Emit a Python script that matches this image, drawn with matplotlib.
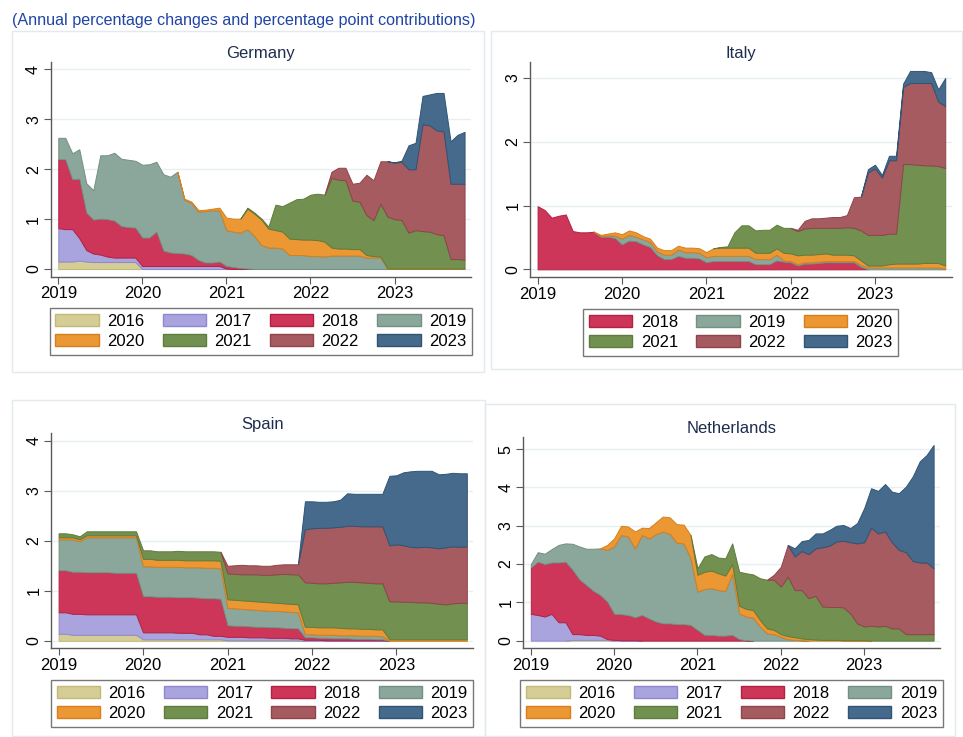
import numpy as np
import matplotlib
matplotlib.use("Agg")
import matplotlib.pyplot as plt
from matplotlib.patches import Patch, Rectangle

plt.rcParams["font.family"] = ["Liberation Sans", "DejaVu Sans"]

# ---------------------------------------------------------------- data --- #
# monthly observations, Jan 2019 .. Nov 2023 (one row per year)
n_obs = 59
years = ["2016", "2017", "2018", "2019", "2020", "2021", "2022", "2023"]
tick_years = [2019, 2020, 2021, 2022, 2023]

# Germany
de_2016 = [0.15, 0.15, 0.15, 0.17, 0.15, 0.14, 0.14, 0.14, 0.14, 0.14, 0.14, 0.14,
           0, 0, 0, 0, 0, 0, 0, 0, 0, 0, 0, 0,
           0, 0, 0, 0, 0, 0, 0, 0, 0, 0, 0, 0,
           0, 0, 0, 0, 0, 0, 0, 0, 0, 0, 0, 0,
           0, 0, 0, 0, 0, 0, 0, 0, 0, 0, 0]
de_2017 = [0.67, 0.65, 0.65, 0.45, 0.23, 0.17, 0.15, 0.11, 0.09, 0.09, 0.09, 0.09,
           0.06, 0.06, 0.06, 0.06, 0.06, 0.06, 0.06, 0.06, 0.06, 0.06, 0.06, 0.06,
           0.01, 0, 0, 0, 0, 0, 0, 0, 0, 0, 0, 0,
           0, 0, 0, 0, 0, 0, 0, 0, 0, 0, 0, 0,
           0, 0, 0, 0, 0, 0, 0, 0, 0, 0, 0]
de_2018 = [1.38, 1.40, 1.00, 1.19, 0.75, 0.68, 0.72, 0.75, 0.74, 0.63, 0.61, 0.60,
           0.57, 0.57, 0.69, 0.31, 0.27, 0.26, 0.25, 0.22, 0.12, 0.07, 0.07, 0.09,
           0.05, 0.04, 0.02, 0.01, 0, 0, 0, 0, 0, 0, 0, 0,
           0, 0, 0, 0, 0, 0, 0, 0, 0, 0, 0, 0,
           0, 0, 0, 0, 0, 0, 0, 0, 0, 0, 0]
de_2019 = [0.43, 0.43, 0.52, 0.59, 0.59, 0.59, 1.27, 1.28, 1.36, 1.35, 1.35, 1.34,
           1.46, 1.47, 1.40, 1.53, 1.52, 1.63, 1.08, 1.05, 0.97, 1.03, 1.05, 1.02,
           0.72, 0.71, 0.71, 0.79, 0.66, 0.48, 0.43, 0.43, 0.41, 0.28, 0.28, 0.28,
           0.26, 0.26, 0.25, 0.27, 0.27, 0.27, 0.27, 0.27, 0.23, 0.23, 0.23, 0,
           0, 0, 0, 0, 0, 0, 0, 0, 0, 0, 0]
de_2020 = [0, 0, 0, 0, 0, 0, 0, 0, 0, 0, 0, 0,
           0, 0, 0, 0, 0, 0, 0.02, 0.02, 0.03, 0.03, 0.03, 0.06,
           0.25, 0.26, 0.28, 0.41, 0.45, 0.51, 0.38, 0.35, 0.34, 0.33, 0.32, 0.31,
           0.33, 0.32, 0.30, 0.16, 0.14, 0.14, 0.13, 0.13, 0.05, 0.03, 0.02, 0.01,
           0.01, 0.01, 0.01, 0.01, 0.01, 0.01, 0.01, 0.01, 0.01, 0.01, 0.01]
de_2021 = [0, 0, 0, 0, 0, 0, 0, 0, 0, 0, 0, 0,
           0, 0, 0, 0, 0, 0, 0, 0, 0, 0, 0, 0,
           0, 0, 0, 0.02, 0.02, 0.02, 0.04, 0.51, 0.51, 0.72, 0.80, 0.82,
           0.90, 0.93, 0.94, 1.40, 1.38, 1.37, 0.97, 0.95, 0.80, 0.72, 1.06, 1.04,
           0.99, 0.97, 0.72, 0.77, 0.75, 0.74, 0.69, 0.67, 0.19, 0.19, 0.18]
de_2022 = [0, 0, 0, 0, 0, 0, 0, 0, 0, 0, 0, 0,
           0, 0, 0, 0, 0, 0, 0, 0, 0, 0, 0, 0,
           0, 0, 0, 0, 0, 0, 0, 0, 0, 0, 0, 0,
           0, 0, 0, 0.12, 0.24, 0.25, 0.34, 0.38, 0.81, 0.80, 0.85, 1.11,
           1.13, 1.17, 1.27, 1.22, 2.14, 2.13, 2.08, 2.08, 1.51, 1.51, 1.52]
de_2023 = [0, 0, 0, 0, 0, 0, 0, 0, 0, 0, 0, 0,
           0, 0, 0, 0, 0, 0, 0, 0, 0, 0, 0, 0,
           0, 0, 0, 0, 0, 0, 0, 0, 0, 0, 0, 0,
           0, 0, 0, 0, 0, 0, 0, 0, 0, 0, 0, 0,
           0.01, 0.02, 0.48, 0.53, 0.57, 0.62, 0.75, 0.77, 0.85, 0.98, 1.04]

# Italy
it_2018 = [0.99, 0.93, 0.81, 0.84, 0.86, 0.60, 0.58, 0.58, 0.59, 0.51, 0.51, 0.49,
           0.39, 0.45, 0.44, 0.39, 0.35, 0.22, 0.16, 0.16, 0.21, 0.18, 0.18, 0.17,
           0.11, 0.13, 0.13, 0.13, 0.13, 0.13, 0.13, 0.08, 0.08, 0.08, 0.14, 0.12,
           0.11, 0.06, 0.09, 0.09, 0.10, 0.11, 0.11, 0.11, 0.11, 0.11, 0.04, 0,
           0, 0, 0, 0, 0, 0, 0, 0, 0, 0, 0]
it_2019 = [0, 0, 0, 0, 0, 0, 0, 0, 0, 0.01, 0.02, 0.04,
           0.09, 0.09, 0.07, 0.08, 0.08, 0.06, 0.07, 0.07, 0.10, 0.09, 0.09, 0.09,
           0.08, 0.08, 0.08, 0.08, 0.08, 0.08, 0.08, 0.08, 0.08, 0.08, 0.09, 0.02,
           0.02, 0.02, 0.02, 0.02, 0.02, 0.02, 0.02, 0.02, 0.02, 0.02, 0.03, 0.03,
           0.03, 0.03, 0.03, 0.03, 0.03, 0.03, 0.03, 0.03, 0.03, 0.03, 0.01]
it_2020 = [0, 0, 0, 0, 0, 0, 0, 0, 0, 0.02, 0.03, 0.05,
           0.07, 0.07, 0.07, 0.05, 0.05, 0.06, 0.07, 0.07, 0.06, 0.07, 0.07, 0.07,
           0.08, 0.12, 0.13, 0.13, 0.13, 0.13, 0.13, 0.10, 0.10, 0.10, 0.10, 0.12,
           0.12, 0.14, 0.12, 0.12, 0.12, 0.12, 0.10, 0.10, 0.10, 0.09, 0.07, 0.03,
           0.03, 0.03, 0.05, 0.06, 0.06, 0.06, 0.06, 0.07, 0.07, 0.07, 0.05]
it_2021 = [0, 0, 0, 0, 0, 0, 0, 0, 0, 0, 0, 0,
           0, 0, 0, 0, 0, 0, 0, 0, 0, 0, 0, 0,
           0, 0, 0.01, 0.02, 0.24, 0.35, 0.35, 0.35, 0.36, 0.36, 0.37, 0.39,
           0.40, 0.38, 0.41, 0.42, 0.41, 0.40, 0.42, 0.42, 0.43, 0.43, 0.47, 0.48,
           0.48, 0.48, 0.48, 0.47, 1.56, 1.56, 1.55, 1.53, 1.53, 1.52, 1.53]
it_2022 = [0, 0, 0, 0, 0, 0, 0, 0, 0, 0, 0, 0,
           0, 0, 0, 0, 0, 0, 0, 0, 0, 0, 0, 0,
           0, 0, 0, 0, 0, 0, 0, 0, 0, 0, 0, 0,
           0, 0.02, 0.12, 0.15, 0.15, 0.16, 0.17, 0.17, 0.19, 0.48, 0.53, 0.98,
           1.04, 0.90, 1.15, 1.15, 1.21, 1.27, 1.28, 1.29, 1.29, 1.01, 0.97]
it_2023 = [0, 0, 0, 0, 0, 0, 0, 0, 0, 0, 0, 0,
           0, 0, 0, 0, 0, 0, 0, 0, 0, 0, 0, 0,
           0, 0, 0, 0, 0, 0, 0, 0, 0, 0, 0, 0,
           0, 0, 0, 0, 0, 0, 0, 0, 0, 0, 0, 0.05,
           0.06, 0.04, 0.07, 0.07, 0.05, 0.19, 0.19, 0.19, 0.17, 0.19, 0.44]

# Spain
es_2016 = [0.14, 0.14, 0.12, 0.12, 0.12, 0.12, 0.12, 0.12, 0.12, 0.12, 0.12, 0.12,
           0.03, 0.03, 0.03, 0.03, 0.03, 0.03, 0.03, 0.03, 0.03, 0.03, 0.03, 0.03,
           0.01, 0.01, 0.01, 0.01, 0.01, 0.01, 0.01, 0.01, 0.01, 0.01, 0.01, 0,
           0, 0, 0, 0, 0, 0, 0, 0, 0, 0, 0, 0,
           0, 0, 0, 0, 0, 0, 0, 0, 0, 0, 0]
es_2017 = [0.43, 0.43, 0.42, 0.42, 0.41, 0.41, 0.41, 0.41, 0.41, 0.41, 0.41, 0.41,
           0.14, 0.14, 0.14, 0.14, 0.14, 0.13, 0.13, 0.13, 0.10, 0.10, 0.07, 0.07,
           0.07, 0.07, 0.07, 0.06, 0.06, 0.06, 0.05, 0.05, 0.05, 0.04, 0.04, 0.02,
           0.02, 0.02, 0.01, 0.01, 0.01, 0.01, 0.01, 0.01, 0.01, 0.01, 0.01, 0,
           0, 0, 0, 0, 0, 0, 0, 0, 0, 0, 0]
es_2018 = [0.84, 0.84, 0.84, 0.84, 0.84, 0.84, 0.84, 0.84, 0.83, 0.83, 0.83, 0.83,
           0.72, 0.72, 0.71, 0.71, 0.71, 0.71, 0.71, 0.71, 0.73, 0.72, 0.75, 0.74,
           0.23, 0.22, 0.22, 0.22, 0.21, 0.21, 0.21, 0.21, 0.20, 0.20, 0.20, 0.05,
           0.05, 0.04, 0.05, 0.04, 0.04, 0.04, 0.03, 0.03, 0.03, 0.02, 0.02, 0,
           0, 0, 0, 0, 0, 0, 0, 0, 0, 0, 0]
es_2019 = [0.62, 0.62, 0.65, 0.61, 0.70, 0.70, 0.70, 0.70, 0.71, 0.71, 0.71, 0.71,
           0.60, 0.60, 0.60, 0.60, 0.60, 0.61, 0.60, 0.60, 0.61, 0.61, 0.61, 0.61,
           0.35, 0.35, 0.34, 0.34, 0.34, 0.33, 0.33, 0.33, 0.33, 0.33, 0.32, 0.06,
           0.06, 0.06, 0.06, 0.07, 0.06, 0.06, 0.07, 0.06, 0.06, 0.07, 0.06, 0,
           0, 0, 0, 0, 0, 0, 0, 0, 0, 0, 0]
es_2020 = [0.04, 0.04, 0.04, 0.04, 0.04, 0.04, 0.04, 0.04, 0.04, 0.04, 0.04, 0.04,
           0.15, 0.15, 0.14, 0.14, 0.14, 0.14, 0.14, 0.14, 0.14, 0.15, 0.15, 0.15,
           0.17, 0.17, 0.17, 0.17, 0.17, 0.17, 0.17, 0.16, 0.16, 0.16, 0.16, 0.15,
           0.15, 0.15, 0.15, 0.15, 0.15, 0.14, 0.14, 0.14, 0.14, 0.13, 0.14, 0.03,
           0.03, 0.03, 0.03, 0.03, 0.03, 0.03, 0.03, 0.03, 0.03, 0.03, 0.03]
es_2021 = [0.08, 0.08, 0.06, 0.06, 0.08, 0.08, 0.08, 0.08, 0.08, 0.08, 0.08, 0.08,
           0.17, 0.17, 0.17, 0.17, 0.17, 0.18, 0.18, 0.18, 0.18, 0.18, 0.18, 0.18,
           0.52, 0.52, 0.52, 0.53, 0.54, 0.54, 0.55, 0.57, 0.59, 0.59, 0.60, 0.89,
           0.88, 0.88, 0.88, 0.89, 0.91, 0.93, 0.93, 0.93, 0.92, 0.92, 0.92, 0.76,
           0.76, 0.75, 0.75, 0.74, 0.74, 0.73, 0.71, 0.70, 0.72, 0.73, 0.73]
es_2022 = [0, 0, 0, 0, 0, 0, 0, 0, 0, 0, 0, 0,
           0, 0, 0, 0, 0, 0, 0, 0, 0, 0, 0, 0,
           0.15, 0.17, 0.19, 0.18, 0.18, 0.18, 0.18, 0.19, 0.19, 0.20, 0.20, 1.06,
           1.09, 1.11, 1.11, 1.11, 1.11, 1.12, 1.12, 1.12, 1.13, 1.14, 1.14, 1.12,
           1.14, 1.13, 1.10, 1.10, 1.11, 1.11, 1.11, 1.14, 1.14, 1.12, 1.13]
es_2023 = [0, 0, 0, 0, 0, 0, 0, 0, 0, 0, 0, 0,
           0, 0, 0, 0, 0, 0, 0, 0, 0, 0, 0, 0,
           0, 0, 0, 0, 0, 0, 0, 0, 0, 0, 0, 0.56,
           0.54, 0.52, 0.52, 0.52, 0.54, 0.65, 0.64, 0.65, 0.65, 0.65, 0.65, 1.39,
           1.38, 1.46, 1.51, 1.53, 1.52, 1.53, 1.48, 1.47, 1.47, 1.47, 1.46]

# Netherlands
nl_2016 = [0, 0, 0, 0, 0, 0, 0.02, 0.02, 0.02, 0.02, 0.02, 0.02,
           0, 0, 0, 0, 0, 0, 0, 0, 0, 0, 0, 0,
           0, 0, 0, 0, 0, 0, 0, 0, 0, 0, 0, 0,
           0, 0, 0, 0, 0, 0, 0, 0, 0, 0, 0, 0,
           0, 0, 0, 0, 0, 0, 0, 0, 0, 0, 0]
nl_2017 = [0.70, 0.67, 0.63, 0.70, 0.48, 0.48, 0.15, 0.15, 0.13, 0.13, 0.11, 0.02,
           0.02, 0.01, 0.01, 0.01, 0, 0, 0, 0, 0, 0, 0, 0,
           0, 0, 0, 0, 0, 0, 0, 0, 0, 0, 0, 0,
           0, 0, 0, 0, 0, 0, 0, 0, 0, 0, 0, 0,
           0, 0, 0, 0, 0, 0, 0, 0, 0, 0, 0]
nl_2018 = [1.21, 1.39, 1.37, 1.34, 1.56, 1.58, 1.68, 1.43, 1.30, 1.15, 1.06, 0.98,
           0.68, 0.68, 0.66, 0.60, 0.67, 0.58, 0.50, 0.45, 0.45, 0.43, 0.43, 0.41,
           0.28, 0.15, 0.15, 0.13, 0.13, 0.15, 0.04, 0.01, 0, 0, 0, 0,
           0, 0, 0, 0, 0, 0, 0, 0, 0, 0, 0, 0,
           0, 0, 0, 0, 0, 0, 0, 0, 0, 0, 0]
nl_2019 = [0.09, 0.25, 0.27, 0.35, 0.46, 0.48, 0.68, 0.86, 0.95, 1.10, 1.22, 1.35,
           1.76, 2.07, 2.05, 1.80, 2.09, 2.09, 2.28, 2.40, 2.34, 2.13, 2.11, 1.74,
           1.00, 1.20, 1.22, 1.19, 1.17, 1.60, 0.67, 0.62, 0.60, 0.37, 0.19, 0.17,
           0.10, 0.04, 0.02, 0.01, 0, 0, 0, 0, 0, 0, 0, 0,
           0, 0, 0, 0, 0, 0, 0, 0, 0, 0, 0]
nl_2020 = [0, 0, 0, 0, 0, 0, 0, 0, 0, 0, 0, 0.13,
           0.21, 0.24, 0.26, 0.44, 0.19, 0.27, 0.31, 0.39, 0.43, 0.48, 0.49, 0.61,
           0.44, 0.45, 0.46, 0.44, 0.40, 0.25, 0.20, 0.20, 0.20, 0.17, 0.13, 0.11,
           0.07, 0.08, 0.07, 0.05, 0.04, 0.03, 0.02, 0.02, 0.02, 0.01, 0.01, 0.01,
           0.01, 0, 0, 0, 0, 0, 0, 0, 0, 0, 0]
nl_2021 = [0, 0, 0, 0, 0, 0, 0, 0, 0, 0, 0, 0,
           0, 0, 0, 0, 0, 0, 0, 0, 0, 0, 0, 0,
           0.17, 0.40, 0.43, 0.41, 0.45, 0.54, 0.89, 0.93, 0.93, 1.09, 1.27, 1.31,
           1.24, 1.55, 1.23, 1.26, 1.07, 1.14, 0.87, 0.86, 0.86, 0.86, 0.70, 0.44,
           0.36, 0.39, 0.37, 0.39, 0.32, 0.32, 0.17, 0.17, 0.17, 0.17, 0.17]
nl_2022 = [0, 0, 0, 0, 0, 0, 0, 0, 0, 0, 0, 0,
           0, 0, 0, 0, 0, 0, 0, 0, 0, 0, 0, 0,
           0, 0, 0, 0, 0, 0, 0, 0, 0, 0, 0, 0.13,
           0.52, 0.83, 0.88, 1.02, 1.15, 1.24, 1.55, 1.60, 1.71, 1.74, 1.86, 2.09,
           2.20, 2.56, 2.43, 2.46, 2.25, 2.05, 2.14, 1.91, 1.87, 1.87, 1.72]
nl_2023 = [0, 0, 0, 0, 0, 0, 0, 0, 0, 0, 0, 0,
           0, 0, 0, 0, 0, 0, 0, 0, 0, 0, 0, 0,
           0, 0, 0, 0, 0, 0, 0, 0, 0, 0, 0, 0,
           0, 0, 0.21, 0.26, 0.37, 0.39, 0.36, 0.41, 0.41, 0.41, 0.37, 0.53,
           0.89, 1.03, 1.11, 1.24, 1.32, 1.48, 1.71, 2.21, 2.64, 2.81, 3.22]

# ------------------------------------------------------------- styling --- #
FACE = {"2016": "#d5cd96", "2017": "#a9a4de", "2018": "#cd3658", "2019": "#8ba69b",
        "2020": "#eb9733", "2021": "#72904f", "2022": "#a65b60", "2023": "#456a8c"}
EDGE = {"2016": "#c2b877", "2017": "#8f88cf", "2018": "#b2213f", "2019": "#74907f",
        "2020": "#d67f1c", "2021": "#5e7c3c", "2022": "#8e4449", "2023": "#2f5474"}
AXIS_COL = "#5a5a5a"

W, H = 963, 737
x = 2019 + np.arange(n_obs) / 12


def px_axes(left, top, right, bottom):
    return [left / W, 1 - bottom / H, (right - left) / W, (bottom - top) / H]


def draw_panel(ax, title, series, labels, ncol, ylim, yticks, leg_y):
    bottom = np.zeros(n_obs)
    for vals, lab in zip(series, labels):
        v = np.asarray(vals, dtype=float)
        assert len(v) == n_obs, (title, lab, len(v))
        top = bottom + v
        mask = v > 0
        mask[1:] |= v[:-1] > 0
        mask[:-1] |= v[1:] > 0
        ax.fill_between(x, bottom, top, where=mask, facecolor=FACE[lab],
                        edgecolor=EDGE[lab], linewidth=0.7, zorder=2)
        bottom = top

    ax.set_xlim(2018.91, 2023.91)
    ax.set_ylim(*ylim)
    ax.set_xticks(tick_years)
    ax.set_xticklabels([str(t) for t in tick_years])
    ax.set_yticks(yticks)
    ax.yaxis.grid(True, color="#e6eff1", linewidth=1)
    ax.set_axisbelow(True)
    for side in ("top", "right"):
        ax.spines[side].set_visible(False)
    for side in ("left", "bottom"):
        ax.spines[side].set_color(AXIS_COL)
        ax.spines[side].set_linewidth(1.0)
    ax.tick_params(axis="x", length=5, color=AXIS_COL, labelsize=12, pad=2)
    ax.tick_params(axis="y", length=5, color=AXIS_COL, labelsize=11.5,
                   labelrotation=90, pad=2)
    for lbl in ax.get_yticklabels():
        lbl.set_va("center")
    ax.set_title(title, fontsize=12, color="#1e2d4f", pad=3)

    handles = [Patch(facecolor=FACE[l], edgecolor=EDGE[l], linewidth=1) for l in labels]
    nrow = int(np.ceil(len(labels) / ncol))
    order = [r * ncol + c for c in range(ncol) for r in range(nrow)]
    leg = ax.legend([handles[i] for i in order], [labels[i] for i in order],
                    loc="upper center", bbox_to_anchor=(0.5, leg_y), ncol=ncol,
                    frameon=True, fancybox=False, edgecolor="#555555",
                    handlelength=2.6, handleheight=0.75, columnspacing=1.1,
                    handletextpad=0.5, fontsize=12, borderpad=0.35,
                    labelspacing=0.3, borderaxespad=0)
    leg.get_frame().set_linewidth(1.0)


fig = plt.figure(figsize=(W / 100, H / 100), dpi=100)

# light panel frames
for (x0, y0, x1, y1) in [(12, 31, 484, 372), (491, 31, 962, 369),
                         (12, 400, 485, 736), (485, 404, 955, 736)]:
    fig.add_artist(Rectangle((x0 / W, 1 - y1 / H), (x1 - x0) / W, (y1 - y0) / H,
                             transform=fig.transFigure, fill=False,
                             edgecolor="#e2eaed", linewidth=1))

fig.text(12 / W, 1 - 20 / H,
         "(Annual percentage changes and percentage point contributions)",
         color="#1f45a5", fontsize=11.6, ha="left", va="center")

ax_de = fig.add_axes(px_axes(50.7, 62, 471, 276.7))
draw_panel(ax_de, "Germany",
           [de_2016, de_2017, de_2018, de_2019, de_2020, de_2021, de_2022, de_2023],
           years, 4, (-0.154, 4.15), [0, 1, 2, 3, 4], -0.146)

ax_it = fig.add_axes(px_axes(530, 62, 951.7, 277.3))
draw_panel(ax_it, "Italy",
           [it_2018, it_2019, it_2020, it_2021, it_2022, it_2023],
           years[2:], 3, (-0.125, 3.25), [0, 1, 2, 3], -0.147)

ax_es = fig.add_axes(px_axes(51, 433.3, 473.3, 648.3))
draw_panel(ax_es, "Spain",
           [es_2016, es_2017, es_2018, es_2019, es_2020, es_2021, es_2022, es_2023],
           years, 4, (-0.15, 4.15), [0, 1, 2, 3, 4], -0.147)

ax_nl = fig.add_axes(px_axes(523.3, 437.3, 940, 648.3))
draw_panel(ax_nl, "Netherlands",
           [nl_2016, nl_2017, nl_2018, nl_2019, nl_2020, nl_2021, nl_2022, nl_2023],
           years, 4, (-0.2, 5.31), [0, 1, 2, 3, 4, 5], -0.150)

fig.savefig("out.png", dpi=100)
